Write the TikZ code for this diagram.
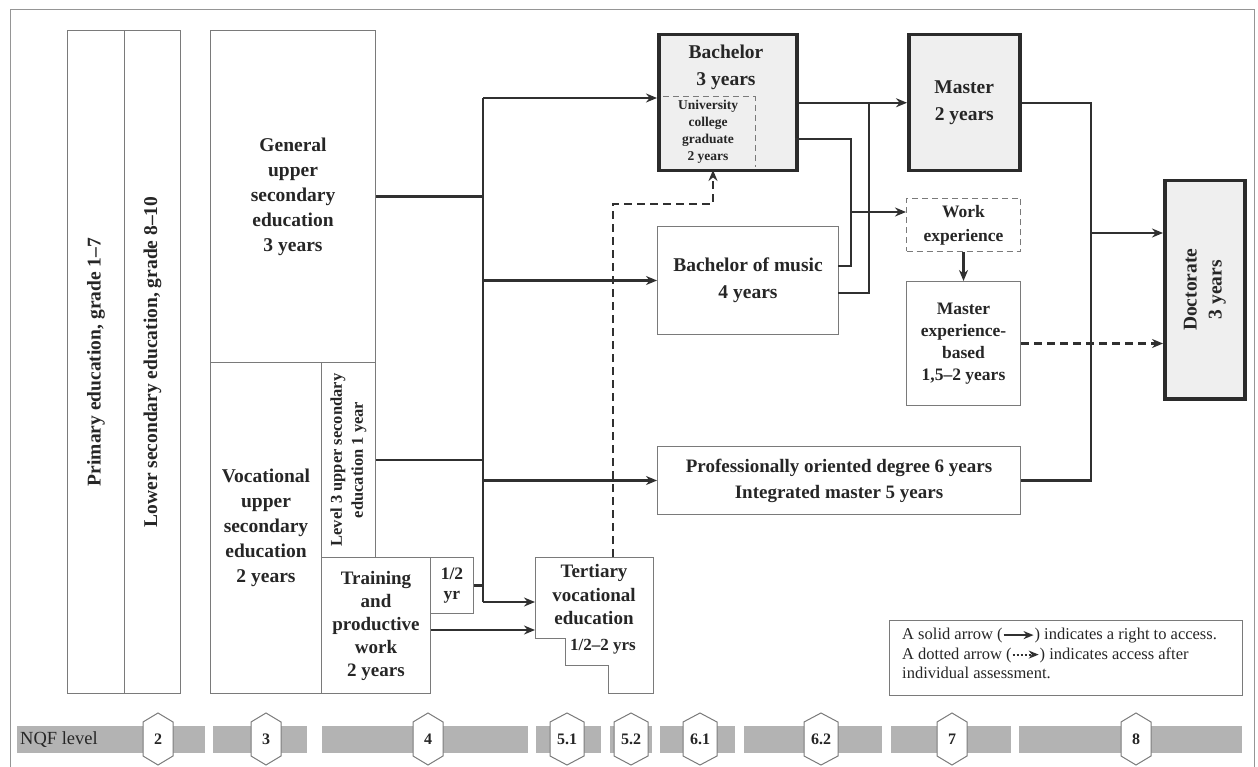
\documentclass[tikz,border=0pt]{standalone}
\usepackage{fontspec}
\setmainfont{Liberation Serif}
\usetikzlibrary{arrows.meta}
\definecolor{txt}{HTML}{262626}
\definecolor{bxc}{HTML}{7A7A7A}
\definecolor{thk}{HTML}{2B2B2B}
\definecolor{fillg}{HTML}{EFEFEF}
\definecolor{lnc}{HTML}{303030}
\definecolor{barg}{HTML}{B3B3B3}
\newcommand\hexlab[4]{%
  \draw[hexs] (#2,713) -- (#2+#4,722) -- (#2+#4,756) -- (#2,765) -- (#2-#4,756) -- (#2-#4,722) -- cycle;
  \node[nqf] (#1) at (#2,739.5) {#3};}
\begin{document}
\begin{tikzpicture}[x=1pt,y=-1pt,
  every node/.style={text=txt},
  box/.style={draw=bxc, line width=1pt, inner sep=0pt, align=center, anchor=north west,
    font=\bfseries\fontsize{19.5}{25}\selectfont},
  thick box/.style={box, draw=thk, line width=3.5pt, fill=fillg},
  dbox/.style={box, dash pattern=on 6pt off 4pt},
  lbl/.style={inner sep=0pt, align=center, font=\bfseries\fontsize{19.5}{25}\selectfont},
  conn/.style={draw=lnc, line width=2.4pt},
  tip/.style={-{Stealth[length=11pt,width=9pt]}},
  arr/.style={conn, tip},
  dsh/.style={conn, dash pattern=on 8pt off 5pt},
  hexs/.style={draw=bxc, line width=1pt, fill=white},
  nqf/.style={inner sep=0pt, font=\bfseries\fontsize{16}{18}\selectfont},
  seg/.style={fill=barg, draw=none},
]
\useasboundingbox (0,0) rectangle (1258,767);
% outer frame
\draw[bxc!80, line width=1pt] (10,767) -- (10,10) -- (1254,10) -- (1254,767);

% left columns
\node[box, minimum width=57pt, minimum height=663pt] (prim) at (67,30) {};
\node[box, minimum width=56pt, minimum height=663pt] (lows) at (124,30) {};
\node[lbl, rotate=90] (primt) at (prim.center) {Primary education, grade 1--7};
\node[lbl, rotate=90] (lowst) at (lows.center) {Lower secondary education, grade 8--10};

% upper secondary
\node[box, minimum width=165pt, minimum height=332pt] (gen) at (210,30) {General\\upper\\secondary\\education\\3 years};
\node[box, minimum width=111pt, minimum height=331pt] (voc) at (210,362) {Vocational\\upper\\secondary\\education\\2 years};
\node[box, minimum width=54pt, minimum height=195pt] (lvl) at (321,362) {};
\node[lbl, rotate=90, font=\bfseries\fontsize{16.5}{21}\selectfont] (lvlt) at (lvl.center) {Level 3 upper secondary\\education 1 year};
\node[box, minimum width=109pt, minimum height=136pt, font=\bfseries\fontsize{19}{23}\selectfont] (trn) at (321,557) {Training\\and\\productive\\work\\2 years};
\node[box, minimum width=43pt, minimum height=56pt, font=\bfseries\fontsize{17.5}{19.5}\selectfont] (half) at (430,557) {1/2\\yr};

% tertiary vocational (stepped shape)
\draw[draw=bxc, line width=1pt] (535,557) -- (653,557) -- (653,693) -- (608,693) -- (608,665) -- (565,665) -- (565,638) -- (535,638) -- cycle;
\node[lbl, font=\bfseries\fontsize{19}{23.5}\selectfont] (tert) at (594,595) {Tertiary\\vocational\\education};
\node[lbl, font=\bfseries\fontsize{17}{20}\selectfont] (tertyrs) at (603,647) {1/2--2 yrs};

% bachelor
\node[thick box, minimum width=138pt, minimum height=136pt] (bach) at (657,33) {};
\node[lbl, font=\bfseries\fontsize{19.5}{27}\selectfont] (bacht) at (726,67) {Bachelor\\3 years};
\draw[bxc, line width=1pt, dash pattern=on 6pt off 4pt] (663,97) -- (755,97) -- (755,167);
\node[lbl, font=\bfseries\fontsize{13.5}{17}\selectfont] (ucg) at (708,132) {University\\college\\graduate\\2 years};

% master, music, professional
\node[thick box, minimum width=111pt, minimum height=136pt, font=\bfseries\fontsize{19.5}{27}\selectfont] (mast) at (907,33) {Master\\2 years};
\node[box, minimum width=181pt, minimum height=108pt, font=\bfseries\fontsize{19.5}{27}\selectfont] (mus) at (657,226) {Bachelor of music\\4 years};
\node[dbox, minimum width=114pt, minimum height=53pt, font=\bfseries\fontsize{17.5}{24}\selectfont] (work) at (906,198) {Work\\experience};
\node[box, minimum width=114pt, minimum height=124pt, font=\bfseries\fontsize{17.5}{22}\selectfont] (meb) at (906,281) {Master\\experience-\\based\\1,5--2 years};
\node[box, minimum width=363pt, minimum height=68pt, font=\bfseries\fontsize{19}{26}\selectfont] (prof) at (657,446) {Professionally oriented degree 6 years\\Integrated master 5 years};
\node[thick box, minimum width=80pt, minimum height=218pt] (doc) at (1163,179) {};
\node[lbl, rotate=90, font=\bfseries\fontsize{19.5}{25}\selectfont] (doct) at (doc.center) {Doctorate\\3 years};

% legend
\node[box, minimum width=353pt, minimum height=75pt] (leg) at (889,620) {};
\node[anchor=north west, inner sep=0pt, align=left, font=\fontsize{16.5}{19.5}\selectfont] (legt) at (902,628)
 {A solid arrow (\tikz[baseline=-0.6ex]\draw[lnc, line width=2pt, -{Stealth[length=10pt,width=8pt]}] (0pt,0pt) -- (30pt,0pt);) indicates a right to access.\\
  A dotted arrow (\tikz[baseline=-0.6ex]\draw[lnc, line width=2pt, dash pattern=on 2pt off 2pt, -{Stealth[length=10pt,width=8pt]}] (0pt,0pt) -- (26pt,0pt);) indicates access after\\
  individual assessment.};

% connectors
\coordinate (tTop) at (483,98);
\coordinate (tBot) at (483,602);
\draw[conn] (tBot) -- (tTop);
\draw[conn] (gen.east) -- (gen.east -| tTop);
\draw[conn] (lvl.east) -- (lvl.east -| tTop);
\draw[conn] (half.east) -- (half.east -| tTop);
\draw[arr] (tTop) -- (tTop -| bach.west);
\draw[arr] (mus.west -| tTop) -- (mus.west);
\draw[arr] (prof.west -| tTop) -- (prof.west);
\coordinate (tertA) at (535,602);
\coordinate (tertB) at (535,630);
\draw[arr] (tBot) -- (tertA);
\draw[arr] (trn.east |- tertB) -- (tertB);
\coordinate (dA) at (613,557);
\coordinate (dB) at (713,204);
\coordinate (dC) at (713,170);
\draw[dsh, tip] (dA) |- (dB) -- (dC);

\draw[arr] (bach.east) -- (mast.west);
\coordinate (bE2) at (795,139);
\coordinate (mE1) at (838,266);
\coordinate (mE2) at (838,293);
\coordinate (v1) at (851,0);
\coordinate (v2) at (869,0);
\coordinate (wA) at (906,212);
\draw[conn] (bE2) -| (v1 |- mE1) -- (mE1);
\draw[conn] (mE2) -| (v2 |- bach.east);
\draw[arr] (v1 |- wA) -- (wA);
\draw[arr] (work.south) -- (meb.north);
\draw[dsh, tip] (meb.east) -- (meb.east -| doc.west);
\coordinate (cx) at (1091,0);
\coordinate (docA) at (1163,233);
\draw[conn] (mast.east) -| (cx |- prof.east) -- (prof.east);
\draw[arr] (cx |- docA) -- (docA);

% NQF bar
\foreach \a/\b in {17/205,213/307,322/528,536/601,610/652,660/735,744/882,891/1011,1019/1242}
  \fill[seg] (\a,726) rectangle (\b,753);
\node[anchor=west, inner sep=0pt, font=\fontsize{18.5}{20}\selectfont] (nqft) at (20,739.5) {NQF level};
\hexlab{n2}{158}{2}{15}
\hexlab{n3}{266}{3}{15}
\hexlab{n4}{428}{4}{15}
\hexlab{n51}{567}{5.1}{17}
\hexlab{n52}{631}{5.2}{17}
\hexlab{n61}{700}{6.1}{17}
\hexlab{n62}{821}{6.2}{17}
\hexlab{n7}{952}{7}{15}
\hexlab{n8}{1136}{8}{15}
\end{tikzpicture}
\end{document}
